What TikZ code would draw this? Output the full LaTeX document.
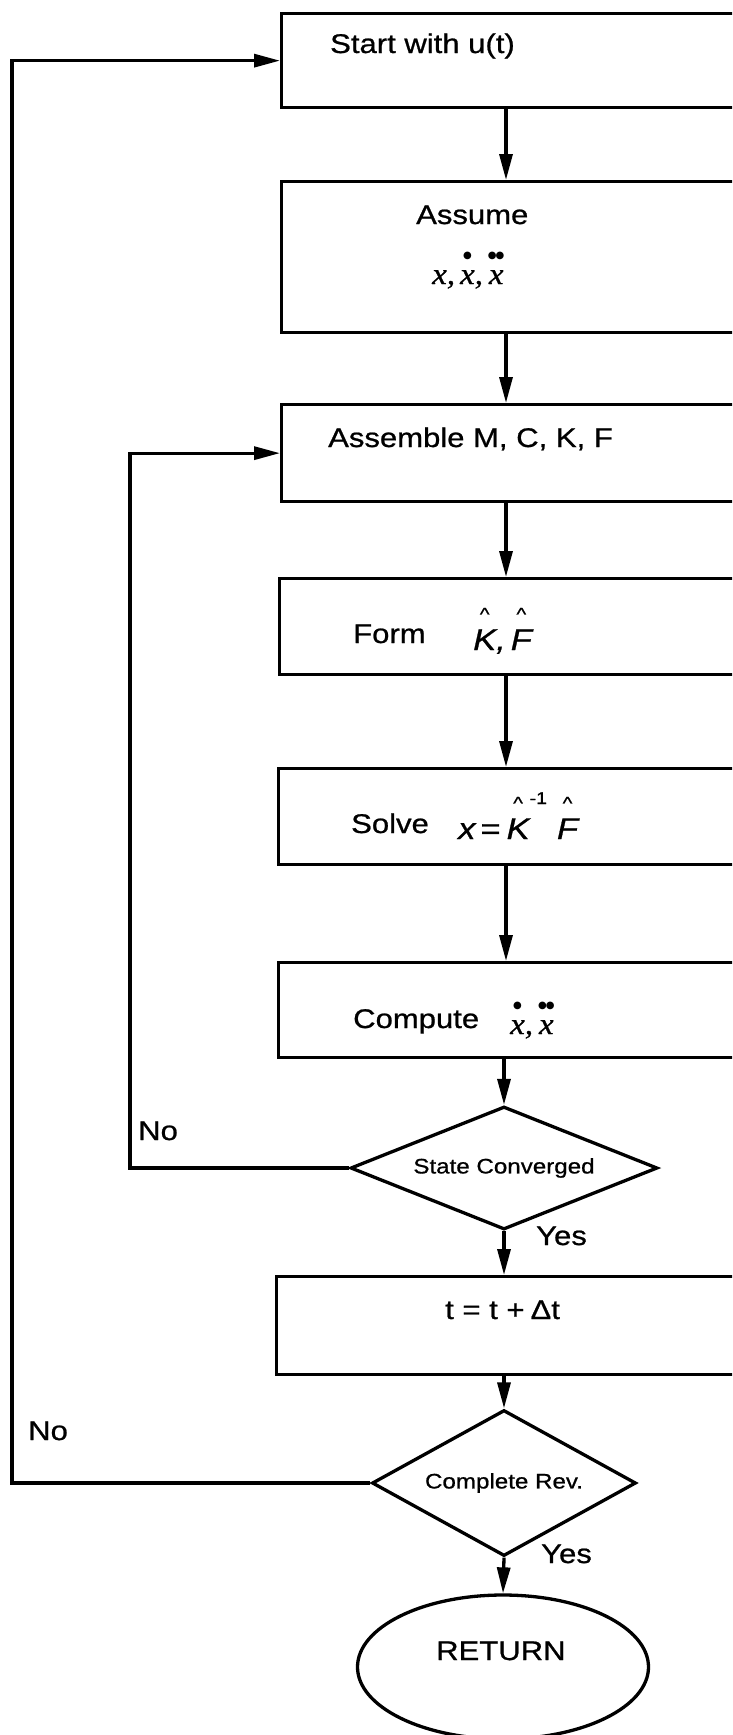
\documentclass[tikz,border=0pt]{standalone}
\usepackage{fontspec}
\setmainfont{Liberation Sans}[FakeStretch=1.15, FakeBold=0.8]
\newfontfamily\serx{Liberation Serif}[FakeStretch=1.1, FakeBold=0.8]
\newfontfamily\dotfont{DejaVu Sans}
\usetikzlibrary{arrows.meta,shapes.geometric}

\newcommand\mainsz{\fontsize{27}{32}\selectfont}
\newcommand\decsz{\fontsize{21}{25}\selectfont}
\newcommand\dotsym{{\dotfont\fontsize{10}{10}\selectfont\upshape ●}}
\newcommand\ddotsym{{\dotfont\fontsize{10}{10}\selectfont\upshape ●\kern-1pt●}}
\newcommand\hatsym{{\fontsize{18}{18}\selectfont\upshape\textasciicircum}}
\newcommand\overstack[3]{\leavevmode\vbox{\offinterlineskip\halign{\hfil##\hfil\cr#1\cr\noalign{\kern#2}#3\cr}}}

\tikzset{
  x=1pt, y=-1pt,
  ln/.style={line width=3.3pt},
  box/.style={ln, draw, rectangle, anchor=north west, inner sep=0pt},
  dia/.style={ln, draw, diamond, inner sep=0pt, font=\decsz},
  txt/.style={anchor=base west, inner sep=0pt, font=\mainsz},
  arr/.style={ln, -{Triangle[length=26pt, width=13pt]}},
}

\begin{document}
\begin{tikzpicture}
\useasboundingbox (0,0) rectangle (732,1735);
\clip (0,0) rectangle (732,1735);

% boxes
\node[box, minimum width=480pt, minimum height=94pt]  (start)    at (280,12)   {};
\node[box, minimum width=480pt, minimum height=151pt] (assume)   at (280,180)  {};
\node[box, minimum width=480pt, minimum height=97pt]  (assemble) at (280,403)  {};
\node[box, minimum width=482pt, minimum height=96pt]  (form)     at (278,577)  {};
\node[box, minimum width=483pt, minimum height=96pt]  (solve)    at (277,767)  {};
\node[box, minimum width=483pt, minimum height=95pt]  (compute)  at (277,961)  {};
\node[box, minimum width=485pt, minimum height=98pt]  (tbox)     at (275,1275) {};

% decisions and terminal
\node[dia, minimum width=307pt, minimum height=123pt, aspect=2.5] (sc) at (504,1168) {State Converged};
\node[dia, minimum width=264pt, minimum height=146pt, aspect=1.8] (cr) at (504,1483) {Complete Rev.};
\node[ln, draw, ellipse, minimum width=291pt, minimum height=144pt, inner sep=0pt] (ret) at (503,1667) {};

% texts
\node[txt] (tstart) at (330,53) {Start with u(t)};
\node[txt] (tassume) at (416,224) {Assume};
\node[txt, font=\serx\fontsize{30}{34}\selectfont\itshape] (tassx) at (432,284)
  {x,\,\overstack{\dotsym}{11pt}{x},\,\overstack{\ddotsym}{11pt}{x}};
\node[txt] (tassemble) at (328,447) {Assemble M, C, K, F};
\node[txt] (tform) at (353,643) {Form};
\node[txt, font=\fontsize{30}{34}\selectfont\itshape] (tformk) at (473,650)
  {\overstack{\hatsym}{9pt}{K},\,\overstack{\hatsym}{9pt}{F}};
\node[txt] (tsolve) at (351,833) {Solve};
\node[txt, font=\fontsize{30}{34}\selectfont\itshape] (tsolvex) at (458,839)
  {x\hspace{5pt}\upshape=\hspace{6pt}\itshape\overstack{\hatsym}{9pt}{K}\raisebox{35pt}{\fontsize{17}{17}\selectfont\upshape -1}\hspace{10pt}\overstack{\hatsym}{9pt}{F}};
\node[txt] (tcompute) at (353,1028) {Compute};
\node[txt, font=\serx\fontsize{30}{34}\selectfont\itshape] (tcompx) at (510,1034)
  {\overstack{\dotsym}{11pt}{x},\,\overstack{\ddotsym}{11pt}{x}};
\node[txt] (tt) at (445,1319) {t = t +\hspace{6pt}Δt};
\node[txt] (tret) at (436,1660) {RETURN};
\node[txt] (no1) at (138,1140) {No};
\node[txt] (no2) at (28,1440) {No};
\node[txt] (yes1) at (536,1245) {Yes};
\node[txt] (yes2) at (541,1563) {Yes};

% connectors
\coordinate (col) at (506,0);
\coordinate (inner) at (130,0);
\coordinate (outer) at (12,0);
\draw[arr] (start.south -| col) -- (assume.north -| col);
\draw[arr] (assume.south -| col) -- (assemble.north -| col);
\draw[arr] (assemble.south -| col) -- (form.north -| col);
\draw[arr] (form.south -| col) -- (solve.north -| col);
\draw[arr] (solve.south -| col) -- (compute.north -| col);
\draw[arr] (compute.south -| sc.north) -- (sc.north);
\draw[arr] (sc.south) -- (tbox.north -| sc.south);
\draw[arr] (tbox.south -| cr.north) -- (cr.north);
\draw[arr] (cr.south) -- (ret.north);
\draw[arr] (sc.west) -- (sc.west -| inner) -- (assemble.west -| inner) -- (assemble.west);
\draw[arr] (cr.west) -- (cr.west -| outer) -- (start.west -| outer) -- (start.west);
\end{tikzpicture}
\end{document}
